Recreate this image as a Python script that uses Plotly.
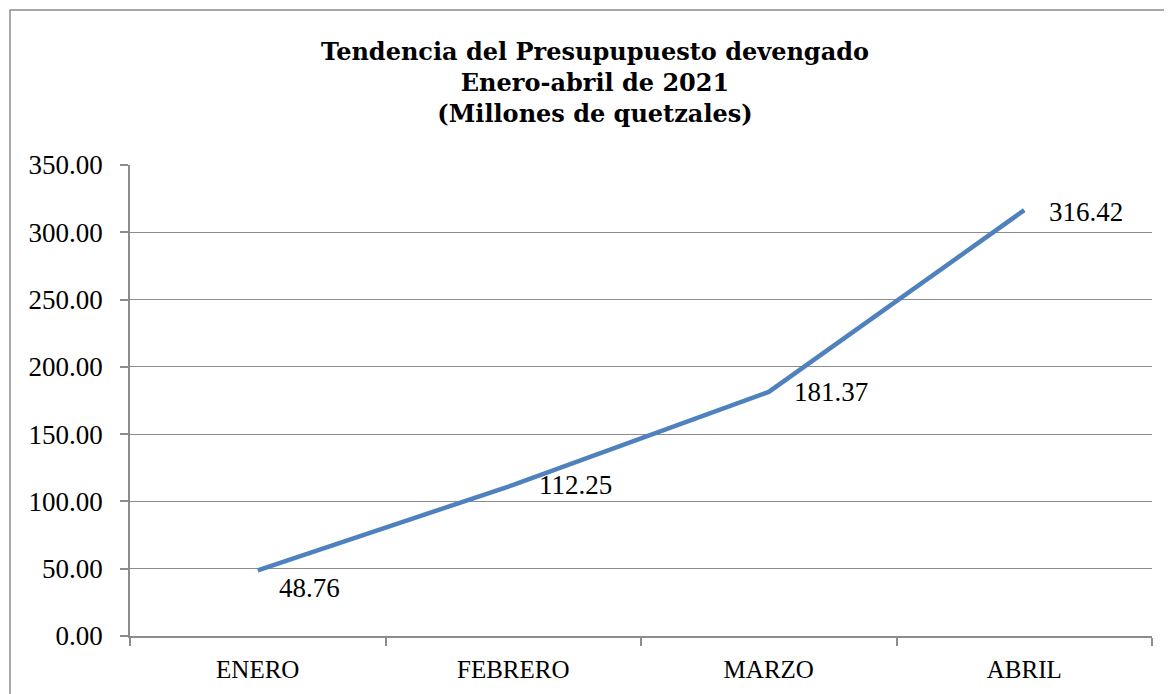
import plotly.graph_objects as go

# Data
meses = ['ENERO', 'FEBRERO', 'MARZO', 'ABRIL']
devengado = [48.76, 112.25, 181.37, 316.42]
y_ticks = [0, 50, 100, 150, 200, 250, 300, 350]

# Label offsets in pixels (x, y) relative to each point
label_shift = [(19, -18), (24, 0), (23, 0), (23, -2)]

W, H = 1172, 694
# page body adds 8px around the figure, so margins are shifted by that
L, R, T, B = 122, 28, 157, 66
GRAY = '#8c8c8c'
FONT = 'Liberation Serif'

fig = go.Figure()
fig.add_trace(go.Scatter(
    x=meses, y=devengado, mode='lines',
    line=dict(color='#4f81bd', width=4.5),
    showlegend=False, hoverinfo='x+y'
))

for m, v, (dx, dy) in zip(meses, devengado, label_shift):
    fig.add_annotation(x=m, y=v, text=f'{v:.2f}', showarrow=False,
                       xanchor='left', yanchor='middle', xshift=dx, yshift=dy,
                       font=dict(family=FONT, size=27, color='black'))

# Outer chart border (runs off the right and bottom edge like the source)
pw, ph = W - L - R, H - T - B
fig.add_shape(type='rect', xref='paper', yref='paper',
              x0=(2 - L) / pw, x1=(W + 10 - L) / pw,
              y0=-(B + 10) / ph, y1=(H - B - 2) / ph,
              line=dict(color=GRAY, width=1.5), layer='below')

fig.update_layout(
    width=W, height=H,
    margin=dict(l=L, r=R, t=T, b=B),
    plot_bgcolor='white', paper_bgcolor='white',
    title=dict(text='Tendencia del Presupupuesto devengado<br>Enero-abril de 2021<br>(Millones de quetzales)',
               x=587 / W, xanchor='center', y=1 - 52 / H, yanchor='top',
               font=dict(family='DejaVu Serif', size=24, color='black', weight='bold')),
    font=dict(family=FONT, size=27, color='black'),
    xaxis=dict(type='category', range=[-0.5, 3.5], showline=True, linecolor=GRAY,
               linewidth=1.5, ticks='outside', tickson='boundaries', ticklen=8,
               tickcolor=GRAY, tickwidth=1.5, showgrid=False, ticklabelstandoff=10,
               tickfont=dict(family=FONT, size=25)),
    yaxis=dict(range=[0, 350], tickvals=y_ticks, tickformat='.2f',
               showline=True, linecolor=GRAY, linewidth=1.5,
               ticks='outside', ticklen=8, tickcolor=GRAY, tickwidth=1.5,
               showgrid=True, gridcolor=GRAY, gridwidth=1.2, zeroline=False,
               ticklabelstandoff=12,
               tickfont=dict(family=FONT, size=27)),
)

fig.write_html('out.html')
